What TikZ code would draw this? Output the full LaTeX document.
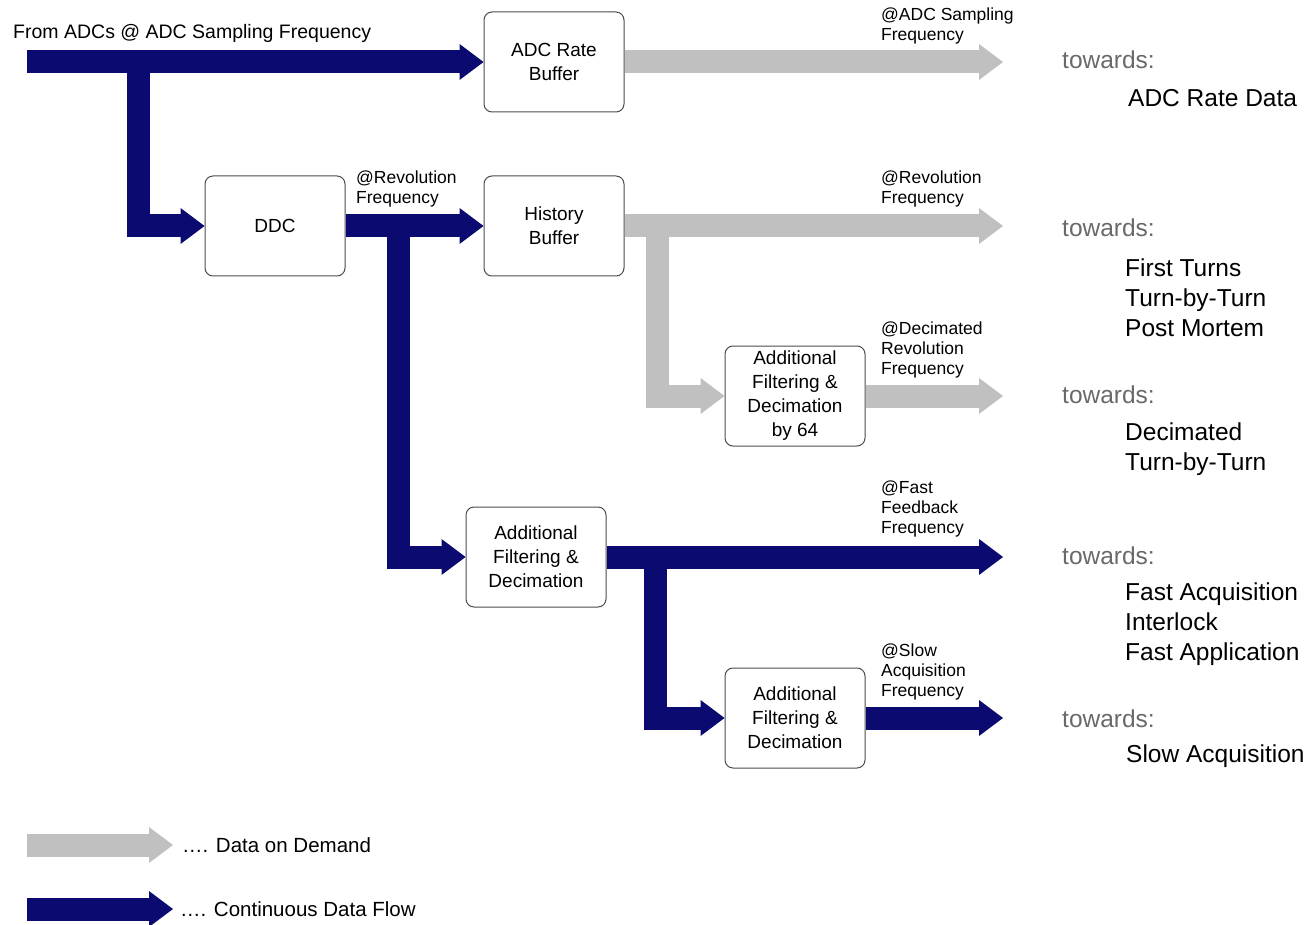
\documentclass[tikz,border=0pt]{standalone}
\usepackage{fontspec}
\setmainfont{Liberation Sans}
\usetikzlibrary{arrows.meta}
\definecolor{flowblue}{RGB}{10,10,112}
\definecolor{demandgray}{RGB}{192,192,192}
\definecolor{towardgray}{RGB}{105,105,105}
\tikzset{
	block/.style={draw=black!70, line width=1pt, rounded corners=8pt, fill=white,
		minimum width=140pt, minimum height=100pt, align=center, inner sep=0pt,
		font=\fontsize{19}{24}\selectfont},
	flow/.style={draw=flowblue, line width=23pt, line join=miter,
		-{Triangle[length=24pt,width=36pt,line width=0pt]}},
	demand/.style={flow, draw=demandgray},
	freq/.style={anchor=west, align=left, inner sep=0pt, font=\fontsize{17.5}{20}\selectfont},
	toward/.style={anchor=west, inner sep=0pt, text=towardgray, font=\fontsize{24.5}{30}\selectfont},
	dest/.style={anchor=west, align=left, inner sep=0pt, font=\fontsize{24.5}{30}\selectfont},
	legend/.style={anchor=west, inner sep=0pt, font=\fontsize{20.5}{24}\selectfont}
}

\begin{document}
\begin{tikzpicture}[x=1pt, y=-1pt]
	\useasboundingbox (0,0) rectangle (1312,925);
	
	% blocks
	\node[block] (adcbuf) at (554,62)  {ADC Rate\\Buffer};
	\node[block] (ddc)    at (275,226) {DDC};
	\node[block] (hist)   at (554,226) {History\\Buffer};
	\node[block] (dec)    at (795,396) {Additional\\Filtering \&\\Decimation\\by 64};
	\node[block] (filt)   at (536,557) {Additional\\Filtering \&\\Decimation};
	\node[block] (slow)   at (795,718) {Additional\\Filtering \&\\Decimation};
	
	% branch points and free ends
	\coordinate (src) at (27,62);
	\coordinate (b1)  at (138,62);
	\coordinate (b2)  at (398,226);
	\coordinate (b3)  at (655,557);
	\coordinate (b4)  at (657,226);
	\coordinate (o1)  at (1003,62);
	\coordinate (o2)  at (1003,226);
	\coordinate (o3)  at (1003,396);
	\coordinate (o4)  at (1003,557);
	\coordinate (o5)  at (1003,718);
	
	% continuous data flow
	\draw[flow] (b1) |- (ddc.west);
	\draw[flow] (src) -- (adcbuf.west);
	\draw[flow] (b2) |- (filt.west);
	\draw[flow] (ddc.east) -- (hist.west);
	\draw[flow] (b3) |- (slow.west);
	\draw[flow] (filt.east) -- (o4);
	\draw[flow] (slow.east) -- (o5);
	
	% data on demand
	\draw[demand] (adcbuf.east) -- (o1);
	\draw[demand] (b4) |- (dec.west);
	\draw[demand] (hist.east) -- (o2);
	\draw[demand] (dec.east) -- (o3);
	
	% rates
	\node[anchor=west, inner sep=0pt, font=\fontsize{19.5}{22}\selectfont] (from) at (13,33) {From ADCs @ ADC Sampling Frequency};
	\node[freq] (f1) at (881,26)  {@ADC Sampling\\Frequency};
	\node[freq] (f2) at (356,189) {@Revolution\\Frequency};
	\node[freq] (f3) at (881,189) {@Revolution\\Frequency};
	\node[freq] (f4) at (881,350) {@Decimated\\Revolution\\Frequency};
	\node[freq] (f5) at (881,509) {@Fast\\Feedback\\Frequency};
	\node[freq] (f6) at (881,672) {@Slow\\Acquisition\\Frequency};
	
	% destinations
	\node[toward] (t1) at (1062,60)  {towards:};
	\node[dest]   (d1) at (1128,98)  {ADC Rate Data};
	\node[toward] (t2) at (1062,228) {towards:};
	\node[dest]   (d2) at (1125,298) {First Turns\\Turn-by-Turn\\Post Mortem};
	\node[toward] (t3) at (1062,395) {towards:};
	\node[dest]   (d3) at (1125,449) {Decimated\\Turn-by-Turn};
	\node[toward] (t4) at (1062,556) {towards:};
	\node[dest]   (d4) at (1125,624) {Fast Acquisition\\Interlock\\Fast Application};
	\node[toward] (t5) at (1062,719) {towards:};
	\node[dest]   (d5) at (1126,756) {Slow Acquisition};
	
	% legend
	\coordinate (lg1) at (27,845);
	\coordinate (lg1e) at (173,845);
	\coordinate (lg2) at (27,909);
	\coordinate (lg2e) at (173,909);
	\draw[demand] (lg1) -- (lg1e);
	\draw[flow] (lg2) -- (lg2e);
	\node[legend] (l1) at (182,845) {…. Data on Demand};
	\node[legend] (l2) at (180,909) {…. Continuous Data Flow};
\end{tikzpicture}
\end{document}
